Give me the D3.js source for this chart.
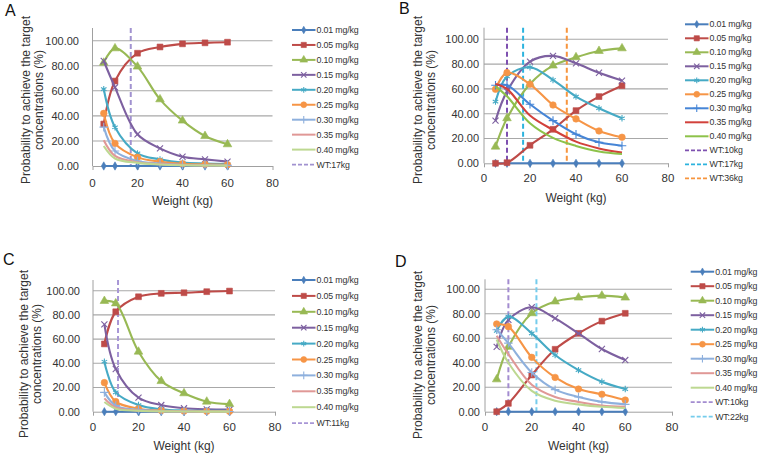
<!DOCTYPE html>
<html>
<head>
<meta charset="utf-8">
<script src="https://cdn.jsdelivr.net/npm/d3@7"></script>
<style>
html,body{margin:0;padding:0;background:#fff;}
svg{display:block;font-family:"Liberation Sans",Arial,Helvetica,sans-serif;}
</style>
</head>
<body>
<svg id="chart" width="758" height="454"></svg>
<script>
// ---------- DATA ----------
const weights = [5, 10, 20, 30, 40, 50, 60];
const doseLabels = ["0.01 mg/kg", "0.05 mg/kg", "0.10 mg/kg", "0.15 mg/kg", "0.20 mg/kg",
                    "0.25 mg/kg", "0.30 mg/kg", "0.35 mg/kg", "0.40 mg/kg"];
const xTicks = [0, 20, 40, 60, 80];
const yTicks = [0, 20, 40, 60, 80, 100];

const valuesA = [
  [0, 0, 0, 0, 0, 0, 0],
  [33.5, 67.8, 90, 95, 97.5, 98.3, 98.8],
  [82.4, 93.9, 79.3, 53.2, 36.2, 23.9, 17.3],
  [83.8, 62.8, 25.3, 14.1, 7.4, 5.3, 3.5],
  [61.4, 30.9, 10.1, 5.3, 2.7, 2.0, 1.6],
  [42, 18, 6.9, 3.5, 1.8, 1.3, 1.0],
  [31, 12, 4, 2, 1, 0.7, 0.5],
  [20.5, 8, 3, 1.5, 0.8, 0.5, 0.4],
  [16, 6, 2.5, 1.2, 0.6, 0.4, 0.3]
];
const valuesB = [
  [0, 0, 0, 0, 0, 0, 0],
  [0, 0.5, 14.5, 27.4, 42.5, 53.8, 62.6],
  [13.4, 36.3, 64, 78.8, 85.5, 90.6, 92.7],
  [34.4, 58, 82, 86.6, 80.6, 73, 66.7],
  [49.7, 70, 77.5, 67.2, 53.8, 44.4, 36.3],
  [59.7, 73.1, 63.7, 47, 35.8, 26.1, 21],
  [63, 63, 47.6, 34.4, 23.4, 16.9, 14.2],
  [64, 60, 38.5, 27, 17.5, 12, 8.6],
  [62, 54, 32.3, 20.5, 14, 9.5, 7.5]
];
const valuesC = [
  [0, 0, 0, 0, 0, 0, 0],
  [56, 82.6, 95, 97.8, 98.3, 99.2, 99.7],
  [91.5, 89.5, 49.6, 25.3, 15.2, 8.3, 6.3],
  [72.2, 35.3, 11.6, 5.5, 2.8, 1.9, 1.7],
  [41.3, 16, 5.5, 2, 1, 0.8, 0.7],
  [24, 8.3, 2.5, 1, 0.5, 0.3, 0.3],
  [16, 5, 1.5, 0.6, 0.3, 0.2, 0.2],
  [11, 3.5, 1, 0.4, 0.2, 0.1, 0.1],
  [8, 2.5, 0.8, 0.3, 0.2, 0.1, 0.1]
];
const valuesD = [
  [0, 0, 0, 0, 0, 0, 0],
  [0, 6.8, 30, 51, 64, 74, 80.4],
  [26.4, 53, 80.4, 90, 93.2, 94.8, 93.2],
  [53, 75, 85.3, 76.3, 64, 51.2, 42.2],
  [66, 77.7, 64, 46.3, 34, 24.5, 18.5],
  [71.7, 69.5, 44.4, 28, 18.5, 14.2, 9.5],
  [67, 56, 32, 18, 12, 8, 6],
  [62, 47, 22, 12, 8, 5, 4],
  [59, 40, 17, 9, 6, 4, 3]
];

const wtA = [17];
const wtB = [10, 17, 36];
const wtC = [11];
const wtD = [10, 22];

// ---------- STYLE ----------
const baseColors = ["#4A7EBB", "#BE4B48", "#98B954", "#7D60A0", "#46AAC5", "#F69546"];
const lightTail = ["#8EB0DD", "#E09896", "#BDD891"];
const darkTail = ["#4685D6", "#D2413B", "#8DC24A"];
const markerTypes = ["diamond", "square", "triangle", "x", "asterisk", "circle", "plus", null, null];

const panels = [
  {id: "A", values: valuesA, tail: lightTail, wt: wtA, wtColors: ["#A192D0"],
   x0: 92.5, x80: 272.5, y0: 166, y100: 40.7, top: 28,
   lab: [5, 16], tl: [29.5, 42.5], tcy: 100, xTitleY: 205, xTickY: 186.5, yLabR: 79,
   leg: {x: 292, y: 30, dy: 14.95}},
  {id: "B", values: valuesB, tail: darkTail, wt: wtB, wtColors: ["#7E50B0", "#2CB3DE", "#F7953E"],
   x0: 484, x80: 668, y0: 163.3, y100: 39.3, top: 27.7,
   lab: [399, 14], tl: [421.5, 434.5], tcy: 100, xTitleY: 202, xTickY: 182, yLabR: 479,
   leg: {x: 685, y: 24.3, dy: 14}},
  {id: "C", values: valuesC, tail: lightTail, wt: wtC, wtColors: ["#A896D6"],
   x0: 93, x80: 275, y0: 411.7, y100: 290.7, top: 280,
   lab: [3, 265], tl: [28, 41], tcy: 354, xTitleY: 450, xTickY: 431, yLabR: 80,
   leg: {x: 292, y: 280, dy: 15.9}},
  {id: "D", values: valuesD, tail: lightTail, wt: wtD, wtColors: ["#A38CD0", "#75CCEC"],
   x0: 485, x80: 672, y0: 411.7, y100: 289.3, top: 279.3,
   lab: [395, 267], tl: [422, 435], tcy: 355, xTitleY: 450, xTickY: 431, yLabR: 480,
   leg: {x: 690.7, y: 271.7, dy: 14.5}}
];

const svg = d3.select("#chart");

function symbolFor(t) {
  switch (t) {
    case "diamond": return {type: d3.symbolDiamond, size: 20, fill: true};
    case "square": return {type: d3.symbolSquare, size: 34, fill: true};
    case "triangle": return {type: d3.symbolTriangle, size: 32, fill: true};
    case "x": return {type: d3.symbolX, size: 26, fill: false};
    case "asterisk": return {type: d3.symbolAsterisk, size: 28, fill: false};
    case "circle": return {type: d3.symbolCircle, size: 34, fill: true};
    case "plus": return {type: d3.symbolPlus, size: 26, fill: false};
  }
  return null;
}

function drawMarker(g, t, color, cx, cy, scale) {
  const s = symbolFor(t);
  if (!s) return;
  g.append("path")
    .attr("d", d3.symbol().type(s.type).size(s.size * (scale || 1))())
    .attr("transform", `translate(${cx},${cy})`)
    .attr("fill", s.fill ? color : "none")
    .attr("stroke", color)
    .attr("stroke-width", s.fill ? 0.6 : 1.1);
}

panels.forEach(p => {
  const g = svg.append("g");
  const x = d3.scaleLinear().domain([0, 80]).range([p.x0, p.x80]);
  const y = d3.scaleLinear().domain([0, 100]).range([p.y0, p.y100]);
  const colors = baseColors.concat(p.tail);

  // gridlines
  g.append("g").selectAll("line").data(yTicks.filter(d => d > 0)).join("line")
    .attr("x1", x(0)).attr("x2", x(80))
    .attr("y1", d => y(d)).attr("y2", d => y(d))
    .attr("stroke", "#A8A8A8").attr("stroke-width", 1.1);

  // y axis line
  g.append("line").attr("x1", x(0)).attr("x2", x(0)).attr("y1", p.top).attr("y2", y(0))
    .attr("stroke", "#A0A0A0").attr("stroke-width", 1);

  // x axis
  const xa = g.append("g").attr("transform", `translate(0,${y(0)})`)
    .call(d3.axisBottom(x).tickValues(xTicks).tickSize(4).tickSizeOuter(0).tickPadding(0));
  xa.select(".domain").attr("stroke", "#A0A0A0");
  xa.selectAll(".tick line").attr("stroke", "#A0A0A0");
  xa.selectAll("text").remove();
  g.append("g").selectAll("text").data(xTicks).join("text")
    .attr("x", d => x(d)).attr("y", p.xTickY)
    .attr("text-anchor", "middle").attr("font-size", 11.5).attr("fill", "#333")
    .text(d => d);

  // y tick labels
  g.append("g").selectAll("text").data(yTicks).join("text")
    .attr("x", p.yLabR).attr("y", d => y(d)).attr("dy", "0.36em")
    .attr("text-anchor", "end").attr("font-size", 11).attr("fill", "#333")
    .text(d => d3.format(".2f")(d));

  // axis titles
  const yt = g.append("text").attr("transform", `translate(${p.tl[0]},${p.tcy}) rotate(-90)`)
    .attr("text-anchor", "middle").attr("font-size", 12).attr("fill", "#333");
  yt.append("tspan").attr("x", 0).attr("y", 0).text("Probability to achieve the target");
  yt.append("tspan").attr("x", 0).attr("y", p.tl[1] - p.tl[0]).text("concentrations (%)");

  g.append("text").attr("x", (x(0) + x(80)) / 2).attr("y", p.xTitleY)
    .attr("text-anchor", "middle").attr("font-size", 12).attr("fill", "#333").text("Weight (kg)");

  // panel letter
  g.append("text").attr("x", p.lab[0]).attr("y", p.lab[1]).attr("font-size", 16)
    .attr("fill", "#111").text(p.id);

  // WT dashed lines
  p.wt.forEach((w, i) => {
    g.append("line").attr("x1", x(w)).attr("x2", x(w)).attr("y1", p.top).attr("y2", y(0))
      .attr("stroke", p.wtColors[i]).attr("stroke-width", 2).attr("stroke-dasharray", "5,3");
  });

  // series
  const line = d3.line().x((d, i) => x(weights[i])).y(d => y(d)).curve(d3.curveCatmullRom.alpha(0.5));
  p.values.forEach((vals, si) => {
    const sg = g.append("g");
    sg.append("path").attr("d", line(vals)).attr("fill", "none")
      .attr("stroke", colors[si]).attr("stroke-width", 2.1);
    vals.forEach((v, i) => drawMarker(sg, markerTypes[si], colors[si], x(weights[i]), y(v)));
  });

  // legend
  const lg = g.append("g");
  const items = doseLabels.map((l, i) => ({label: l, color: colors[i], marker: markerTypes[i], dash: false}))
    .concat(p.wt.map((w, i) => ({label: "WT:" + w + "kg", color: p.wtColors[i], marker: null, dash: true})));
  items.forEach((it, i) => {
    const yy = p.leg.y + i * p.leg.dy;
    lg.append("line").attr("x1", p.leg.x).attr("x2", p.leg.x + 23.5).attr("y1", yy).attr("y2", yy)
      .attr("stroke", it.color).attr("stroke-width", it.dash ? 1.8 : 2)
      .attr("stroke-dasharray", it.dash ? "4,2" : null);
    if (it.marker) drawMarker(lg, it.marker, it.color, p.leg.x + 11.75, yy, 0.8);
    lg.append("text").attr("x", p.leg.x + 24.5).attr("y", yy).attr("dy", "0.35em")
      .attr("font-size", 8.8).attr("letter-spacing", "-0.15").attr("fill", "#333").text(it.label);
  });
});
</script>
</body>
</html>
